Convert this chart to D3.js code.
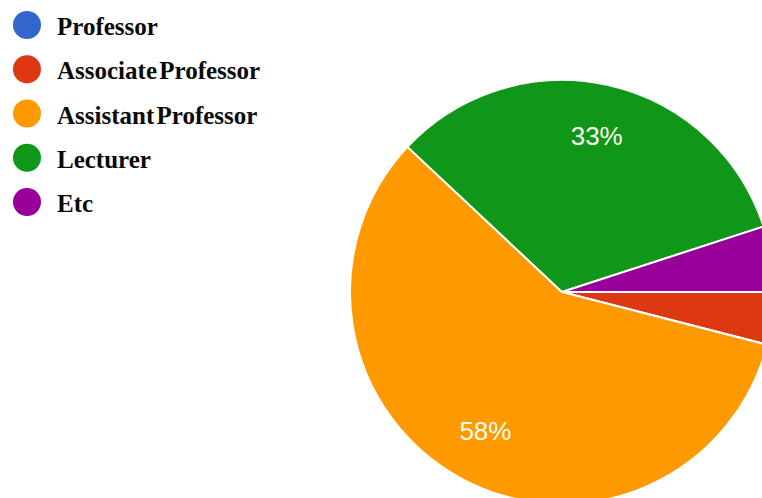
<!DOCTYPE html>
<html>
<head>
<meta charset="utf-8">
<script src="https://cdn.jsdelivr.net/npm/d3@7"></script>
<style>
  html, body { margin: 0; padding: 0; background: #ffffff; }
  svg { display: block; }
</style>
</head>
<body>
<svg id="chart" width="762" height="498"></svg>
<script>
// Survey respondents by academic position (percent)
const categories = ["Professor", "Associate Professor", "Assistant Professor", "Lecturer", "Etc"];
const shares = [0, 4, 58, 33, 5];
const colors = ["#3366cc", "#dc3912", "#ff9900", "#109618", "#990099"];

const width = 762, height = 498;
const svg = d3.select("#chart");

// Pie geometry
const cx = 562, cy = 292, radius = 212;

const pie = d3.pie()
  .value(d => d.value)
  .sort(null)
  .startAngle(Math.PI / 2)
  .endAngle(Math.PI / 2 + 2 * Math.PI);

const data = categories.map((c, i) => ({ name: c, value: shares[i], color: colors[i] }));
const arcs = pie(data);

const arc = d3.arc().innerRadius(0).outerRadius(radius);
const labelArc = d3.arc().innerRadius(radius * 0.75).outerRadius(radius * 0.75);

const g = svg.append("g").attr("transform", `translate(${cx},${cy})`);

g.selectAll("path.slice")
  .data(arcs.filter(d => d.value > 0))
  .join("path")
  .attr("class", "slice")
  .attr("d", arc)
  .attr("fill", d => d.data.color)
  .attr("stroke", "#ffffff")
  .attr("stroke-width", 2)
  .attr("stroke-linejoin", "round");

// Percentage labels on the larger slices
g.selectAll("text.pct")
  .data(arcs.filter(d => d.value >= 10))
  .join("text")
  .attr("class", "pct")
  .attr("transform", d => `translate(${labelArc.centroid(d)})`)
  .attr("text-anchor", "middle")
  .attr("dy", "0.33em")
  .attr("fill", "#fdfdf0")
  .attr("font-family", "Arial, 'Liberation Sans', sans-serif")
  .attr("font-size", 26)
  .text(d => d.value + "%");

// Legend
const legendY = d3.scalePoint()
  .domain(categories)
  .range([25, 202]);

const legend = svg.append("g");
const item = legend.selectAll("g.item")
  .data(data)
  .join("g")
  .attr("class", "item")
  .attr("transform", d => `translate(0,${legendY(d.name)})`);

item.append("circle")
  .attr("cx", 27)
  .attr("cy", 0)
  .attr("r", 14)
  .attr("fill", d => d.color);

item.append("text")
  .attr("x", 57)
  .attr("y", 10)
  .attr("fill", "#0a0a0a")
  .attr("font-family", "'Liberation Serif', 'Times New Roman', serif")
  .attr("font-weight", "bold")
  .attr("font-size", 25)
  .attr("word-spacing", -4)
  .text(d => d.name);
</script>
</body>
</html>
